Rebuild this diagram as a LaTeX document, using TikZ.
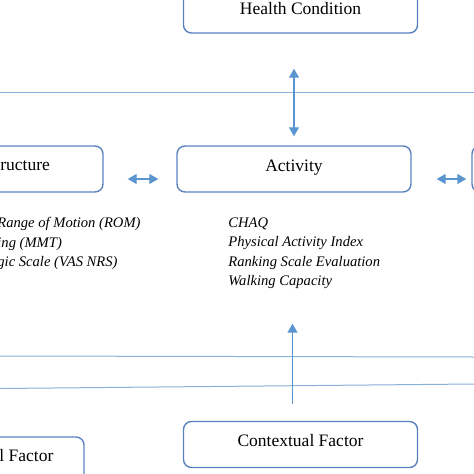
\documentclass[tikz,border=0pt]{standalone}
\usepackage{fontspec}
\setmainfont{Liberation Serif}
\usetikzlibrary{positioning,arrows.meta}
\definecolor{boxblue}{HTML}{5A82BE}
\definecolor{arrowblue}{HTML}{5B95CF}
\definecolor{bandblue}{HTML}{8AAFD8}

\begin{document}
\begin{tikzpicture}[x=1pt,y=-1pt,thick]
 \tikzset{
  box/.style={draw=boxblue, line width=1.4pt, rounded corners=8pt,
   minimum width=234pt, minimum height=46pt, inner sep=0pt,
   text height=12pt, text depth=8pt, font=\fontsize{17.5}{20}\selectfont},
  boxtext/.style={anchor=base west, inner sep=0pt, font=\fontsize{17.5}{20}\selectfont},
  list/.style={anchor=north west, align=left, inner sep=0pt,
   font=\itshape\fontsize{14.6}{19.5}\selectfont},
  link/.style={draw=arrowblue, line width=1.2pt,
   {Triangle[width=10pt,length=9pt]}-{Triangle[width=10pt,length=9pt]}},
  uplink/.style={draw=arrowblue, line width=1.2pt, -{Triangle[width=10pt,length=9pt]}},
  band/.style={draw=bandblue, line width=1pt}
 }
 \clip (0,0) rectangle (474,474);
 % boxes
 \node[box, text depth=4pt] (health) at (300.5,10) {Health Condition};
 \node[box] (activity) at (294,169) {Activity};
 \node[box] (structure) at (-14,169) {};
 \node[box] (participation) at (589,169) {};
 \node[box] (context) at (300.5,444.5) {Contextual Factor};
 \node[box] (personal) at (-33,460) {};
 \node[boxtext] (structurelabel) at (0,170.5) {ructure};
 \node[boxtext] (personallabel) at (-1,461.5) {l Factor};
 % measures
 \node[list] (structurelist) at (-3,217) {Range of Motion (ROM)\\ing (MMT)\\gic Scale (VAS NRS)};
 \node[list] (activitylist) at (228,217) {CHAQ\\Physical Activity Index\\Ranking Scale Evaluation\\Walking Capacity};
 % bands
 \draw[band] (0,92) -- (474,92);
 \draw[band] (0,356) -- (474,357);
 \draw[band] (0,388.5) -- (474,384);
 % links
 \draw[link, shorten <=9pt, shorten >=35pt] (activity.north) -- (activity.north |- health.south);
 \draw[link, shorten <=24pt, shorten >=18pt] ([yshift=-10pt]structure.east) -- ([yshift=-10pt]activity.west);
 \draw[link, shorten <=25pt, shorten >=5pt] ([yshift=-10pt]activity.east) -- ([yshift=-10pt]participation.west);
 \draw[uplink, shorten <=17pt, shorten >=131pt] ([xshift=-1.5pt]context.north -| activity.south) -- ([xshift=-1.5pt]activity.south);
\end{tikzpicture}
\end{document}
